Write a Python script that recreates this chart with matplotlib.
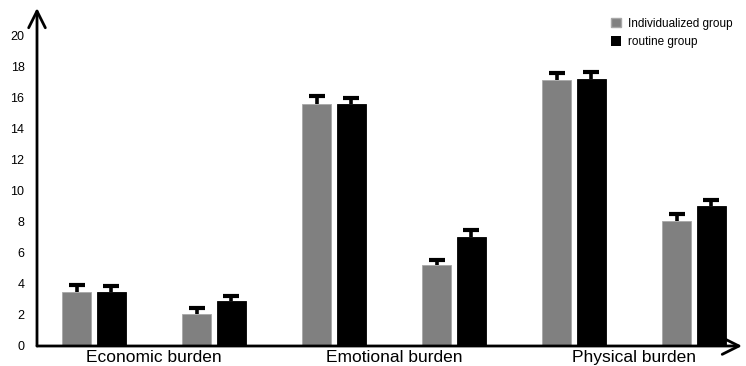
import numpy as np
import matplotlib
matplotlib.use("Agg")
import matplotlib.pyplot as plt
from matplotlib.patches import Patch

# 数据：每个维度两组（干预前/干预后），两种护理方式
categories = ["Economic burden", "Emotional burden", "Physical burden"]
individualized = [3.5, 2.05, 15.6, 5.2, 17.1, 8.05]
individualized_err = [0.42, 0.38, 0.48, 0.35, 0.45, 0.43]
routine = [3.48, 2.9, 15.6, 7.0, 17.2, 9.0]
routine_err = [0.38, 0.32, 0.37, 0.47, 0.42, 0.4]
y_ticks = [0, 2, 4, 6, 8, 10, 12, 14, 16, 18, 20]

plt.rcParams["font.family"] = ["Liberation Sans", "DejaVu Sans"]

fig = plt.figure(figsize=(7.46, 3.66), dpi=100)
ax = fig.add_axes([37 / 746, 20 / 366, 705 / 746, 338 / 366])

x = np.arange(len(individualized))
width = 0.24
offset = 0.144

ax.bar(x - offset, individualized, width, color="#808080", edgecolor="#a8a8a8", linewidth=0.6)
ax.bar(x + offset, routine, width, color="black", edgecolor="black", linewidth=0.6)

# 只画向上的误差线，下端的帽子隐藏
err_kw = dict(fmt="none", ecolor="black", elinewidth=2.6, capsize=6, capthick=3)
for xs, vals, errs in [(x - offset, individualized, individualized_err),
                       (x + offset, routine, routine_err)]:
    eb = ax.errorbar(xs, vals, yerr=[np.zeros(len(xs)), errs], **err_kw)
    for cap in eb[1]:
        if np.allclose(cap.get_ydata(), vals):
            cap.set_visible(False)

ax.set_xlim(-0.475, 5.4)
ax.set_ylim(0, 21.76)
ax.set_yticks(y_ticks)
ax.tick_params(axis="y", length=0, labelsize=9, pad=9)
ax.set_xticks([0.5, 2.5, 4.5])
ax.set_xticklabels(categories, fontsize=12.5)
ax.tick_params(axis="x", length=0, pad=3)

for side in ["top", "right", "left", "bottom"]:
    ax.spines[side].set_visible(False)

# 带箭头的坐标轴
arrow = dict(arrowstyle="->", lw=2, color="black", mutation_scale=30, shrinkA=0, shrinkB=0)
ax.annotate("", xy=(0, 1), xytext=(0, 0), xycoords="axes fraction", arrowprops=arrow)
ax.annotate("", xy=(1, 0), xytext=(0, 0), xycoords="axes fraction", arrowprops=arrow)

handles = [Patch(facecolor="#808080", edgecolor="#a8a8a8", label="Individualized group"),
           Patch(facecolor="black", label="routine group")]
fig.legend(handles=handles, loc="upper left", bbox_to_anchor=(600 / 746, 1 - 7 / 366),
           frameon=False, fontsize=8.5, handlelength=0.9, handleheight=0.9,
           handletextpad=0.6, labelspacing=0.55)

fig.savefig("out.png", dpi=100)
